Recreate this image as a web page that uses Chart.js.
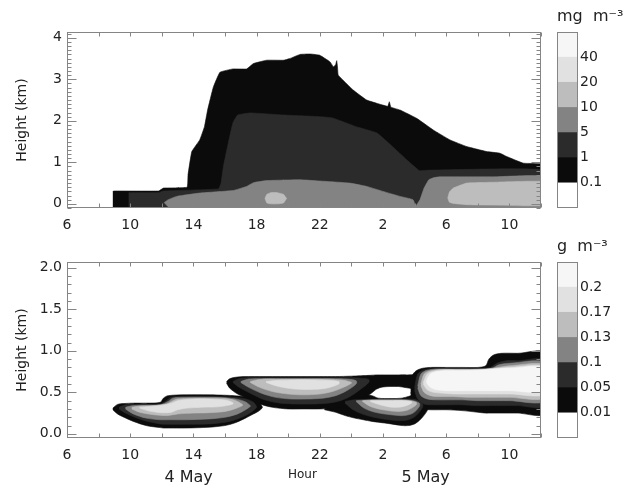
<!DOCTYPE html>
<html>
<head>
<meta charset="utf-8">
<script src="https://cdn.jsdelivr.net/npm/chart.js@4"></script>
<style>
  html, body { margin: 0; padding: 0; background: #fff; }
  #page { position: relative; width: 628px; height: 489px; overflow: hidden; }
  .box { position: absolute; }
</style>
</head>
<body>
<div id="page">
  <div class="box" style="left:0;top:0"><canvas id="iwc" width="550" height="240"></canvas></div>
  <div class="box" style="left:550px;top:0"><canvas id="iwcBar" width="78" height="240"></canvas></div>
  <div class="box" style="left:0;top:230px"><canvas id="lwc" width="550" height="259"></canvas></div>
  <div class="box" style="left:550px;top:230px"><canvas id="lwcBar" width="78" height="259"></canvas></div>
</div>
<script>
// x axis: hours since 0 h on 4 May (6 .. 36)
const hourTicks = [6, 10, 14, 18, 22, 26, 30, 34];
const hourLabels = ['6', '10', '14', '18', '22', '2', '6', '10'];
const noteTicks = [13.7, 20.9, 28.7];
const noteLabels = ['4 May', 'Hour', '5 May'];

const iwcTicks = [0, 1, 2, 3, 4];
const iwcTickLabels = ['0', '1', '2', '3', '4'];
const lwcTicks = [0, 0.5, 1, 1.5, 2];
const lwcTickLabels = ['0.0', '0.5', '1.0', '1.5', '2.0'];

// colour bar levels
const iwcLevels = ['0.1', '1', '5', '10', '20', '40'];
const lwcLevels = ['0.01', '0.05', '0.1', '0.13', '0.17', '0.2'];
const shades = ['#ffffff', '#0b0b0b', '#2b2b2b', '#838383', '#bdbdbd', '#e1e1e1', '#f6f6f6'];

// ---- top panel (mg m-3), contour regions: top / bottom height (km) per hour ----
const FLOOR = -0.2;
const iwc01 = {
  hours: [8.9, 9.0, 11.8, 12.1, 13.6, 13.66, 13.9, 14.4, 14.7, 14.9, 15.26, 15.68, 16.5, 17.37, 17.8, 18.64, 19.7, 20.1, 20.75, 21.4, 22.0, 22.65, 22.86, 23.0, 23.07, 23.12, 23.17, 24.12, 24.97, 26.3, 26.4, 26.5, 27.08, 28.13, 29.18, 30.24, 31.3, 32.56, 33.4, 33.83, 34.88, 36.3],
  top:   [0.30, 0.31, 0.31, 0.38, 0.40, 0.70, 1.26, 1.54, 1.86, 2.26, 2.81, 3.17, 3.25, 3.25, 3.38, 3.46, 3.46, 3.50, 3.60, 3.61, 3.58, 3.42, 3.30, 3.35, 3.45, 3.30, 3.10, 2.74, 2.50, 2.35, 2.46, 2.33, 2.26, 2.06, 1.78, 1.54, 1.38, 1.26, 1.22, 1.14, 0.98, 0.94]
};
const iwc1 = {
  hours: [9.9, 10.0, 11.8, 12.1, 15.6, 15.75, 15.9, 16.2, 16.5, 16.8, 17.6, 19.7, 22.0, 22.8, 24.3, 25.6, 26.6, 27.5, 28.3, 28.8, 36.3],
  top:   [0.27, 0.27, 0.27, 0.31, 0.36, 0.50, 0.90, 1.45, 1.95, 2.14, 2.19, 2.14, 2.10, 2.07, 1.86, 1.71, 1.38, 1.06, 0.80, 0.81, 0.81]
};
const iwc5a = {
  hours:  [12.15, 12.4, 12.94, 14.4, 16.5, 17.37, 17.8, 18.64, 20.75, 22.0, 23.9, 24.97, 26.0, 27.08, 27.9, 28.1],
  top:    [0.03, 0.10, 0.18, 0.26, 0.32, 0.42, 0.51, 0.56, 0.58, 0.55, 0.50, 0.42, 0.30, 0.18, 0.10, -0.1],
  bottom: [0.03, -0.07, -0.2, -0.2, -0.2, -0.2, -0.2, -0.2, -0.2, -0.2, -0.2, -0.2, -0.2, -0.2, -0.2, -0.2]
};
const iwc5b = {
  hours: [28.0, 28.34, 28.6, 28.9, 29.2, 29.6, 31.0, 33.0, 36.3],
  top:   [-0.1, 0.10, 0.38, 0.58, 0.63, 0.65, 0.65, 0.65, 0.66]
};
const iwc10a = {
  hours:  [18.53, 18.65, 18.9, 19.3, 19.7, 19.9],
  top:    [0.13, 0.23, 0.27, 0.27, 0.23, 0.13],
  bottom: [0.13, 0.02, 0.0, 0.0, 0.02, 0.13]
};
const iwc10b = {
  hours:  [30.1, 30.2, 30.45, 31.3, 33.0, 36.3],
  top:    [0.14, 0.28, 0.38, 0.50, 0.52, 0.53],
  bottom: [0.14, 0.04, 0.01, -0.02, -0.03, -0.03]
};

// ---- bottom panel (g m-3): four cloud layers A, B, C, D ----
const lwcA0 = { hours: [8.9, 9.2, 9.6, 10.2, 11.0, 11.9, 12.1, 12.4, 13.5, 15.0, 16.0, 16.6, 17.2, 17.7, 18.1, 18.35],
  top:    [0.31, 0.355, 0.365, 0.37, 0.37, 0.38, 0.43, 0.46, 0.47, 0.47, 0.465, 0.46, 0.45, 0.43, 0.39, 0.33],
  bottom: [0.29, 0.24, 0.20, 0.15, 0.10, 0.075, 0.07, 0.07, 0.07, 0.08, 0.10, 0.13, 0.18, 0.23, 0.27, 0.31] };
const lwcA1 = { hours: [9.3, 9.7, 10.3, 11.0, 11.9, 12.3, 12.6, 13.5, 15.0, 16.0, 16.8, 17.4, 17.8, 18.0],
  top:    [0.32, 0.35, 0.355, 0.355, 0.36, 0.40, 0.44, 0.45, 0.45, 0.445, 0.435, 0.415, 0.38, 0.33],
  bottom: [0.30, 0.25, 0.20, 0.155, 0.12, 0.115, 0.115, 0.115, 0.12, 0.14, 0.18, 0.23, 0.28, 0.32] };
const lwcA2 = { hours: [9.7, 10.2, 11.0, 11.9, 12.4, 12.7, 13.5, 15.0, 16.0, 16.8, 17.3, 17.6],
  top:    [0.32, 0.34, 0.345, 0.35, 0.39, 0.43, 0.44, 0.44, 0.435, 0.415, 0.385, 0.34],
  bottom: [0.30, 0.24, 0.19, 0.17, 0.17, 0.17, 0.17, 0.18, 0.20, 0.24, 0.29, 0.33] };
const lwcA3 = { hours: [10.1, 10.6, 11.5, 12.3, 12.7, 13.0, 14.0, 15.0, 16.0, 16.6, 17.1],
  top:    [0.32, 0.335, 0.34, 0.36, 0.40, 0.42, 0.43, 0.43, 0.425, 0.405, 0.355],
  bottom: [0.30, 0.26, 0.23, 0.22, 0.23, 0.24, 0.25, 0.255, 0.27, 0.30, 0.34] };
const lwcA4 = { hours: [10.6, 11.2, 12.0, 12.6, 13.0, 13.6, 14.5, 15.5, 16.1, 16.5],
  top:    [0.32, 0.33, 0.345, 0.37, 0.40, 0.415, 0.42, 0.415, 0.405, 0.375],
  bottom: [0.31, 0.275, 0.255, 0.26, 0.29, 0.31, 0.32, 0.325, 0.34, 0.36] };

const lwcB0 = { hours: [16.1, 16.3, 16.8, 17.5, 18.2, 19.0, 20.0, 21.0, 22.0, 23.0, 24.0, 24.6, 25.2, 25.6, 26.0, 27.0, 27.5, 28.1],
  top:    [0.63, 0.665, 0.685, 0.69, 0.69, 0.69, 0.69, 0.69, 0.69, 0.69, 0.695, 0.70, 0.705, 0.71, 0.71, 0.71, 0.71, 0.70],
  bottom: [0.61, 0.55, 0.48, 0.42, 0.36, 0.32, 0.30, 0.30, 0.30, 0.31, 0.36, 0.42, 0.48, 0.54, 0.565, 0.57, 0.555, 0.55] };
const lwcB1 = { hours: [16.5, 16.9, 17.6, 18.5, 19.5, 20.5, 21.5, 22.5, 23.3, 24.0, 24.6, 25.1],
  top:    [0.63, 0.665, 0.675, 0.675, 0.675, 0.675, 0.675, 0.675, 0.675, 0.675, 0.67, 0.655],
  bottom: [0.62, 0.56, 0.49, 0.41, 0.37, 0.36, 0.36, 0.37, 0.40, 0.46, 0.54, 0.62] };
const lwcB2 = { hours: [17.0, 17.5, 18.3, 19.2, 20.2, 21.2, 22.2, 23.0, 23.7, 24.3],
  top:    [0.63, 0.66, 0.665, 0.665, 0.665, 0.665, 0.665, 0.665, 0.66, 0.64],
  bottom: [0.62, 0.56, 0.49, 0.44, 0.42, 0.42, 0.43, 0.46, 0.52, 0.60] };
const lwcB3 = { hours: [17.6, 18.2, 19.0, 20.0, 21.0, 22.0, 22.8, 23.5, 24.0],
  top:    [0.63, 0.655, 0.66, 0.66, 0.66, 0.66, 0.655, 0.645, 0.62],
  bottom: [0.62, 0.56, 0.51, 0.48, 0.47, 0.48, 0.51, 0.56, 0.61] };
const lwcB4 = { hours: [18.6, 19.4, 20.4, 21.4, 22.4, 23.2],
  top:    [0.63, 0.645, 0.65, 0.65, 0.645, 0.63],
  bottom: [0.62, 0.57, 0.54, 0.535, 0.55, 0.60] };

const lwcD0 = { hours: [22.3, 23.0, 23.6, 24.2, 24.75, 25.3, 25.7, 26.5, 27.2, 27.6, 28.0, 28.4, 28.8],
  top:    [0.30, 0.36, 0.41, 0.45, 0.47, 0.46, 0.43, 0.425, 0.43, 0.45, 0.47, 0.42, 0.33],
  bottom: [0.29, 0.26, 0.22, 0.19, 0.17, 0.15, 0.14, 0.12, 0.10, 0.10, 0.12, 0.18, 0.28] };
const lwcD1 = { hours: [23.6, 24.2, 25.0, 26.0, 27.0, 27.6, 28.1, 28.5],
  top:    [0.39, 0.41, 0.415, 0.415, 0.415, 0.42, 0.41, 0.36],
  bottom: [0.37, 0.28, 0.22, 0.18, 0.16, 0.17, 0.22, 0.32] };
const lwcD2 = { hours: [24.3, 24.8, 25.5, 26.5, 27.3, 27.9, 28.3],
  top:    [0.40, 0.405, 0.41, 0.41, 0.41, 0.40, 0.37],
  bottom: [0.39, 0.31, 0.26, 0.23, 0.22, 0.25, 0.33] };
const lwcD3 = { hours: [24.7, 25.2, 26.0, 27.0, 27.6, 28.1],
  top:    [0.40, 0.405, 0.405, 0.405, 0.40, 0.38],
  bottom: [0.39, 0.33, 0.29, 0.27, 0.29, 0.35] };
const lwcD4 = { hours: [25.2, 25.8, 26.6, 27.3, 27.8],
  top:    [0.40, 0.40, 0.40, 0.40, 0.39],
  bottom: [0.39, 0.35, 0.32, 0.33, 0.37] };

const lwcC0 = { hours: [27.75, 27.85, 28.1, 28.5, 29.0, 30.0, 31.0, 32.0, 32.5, 32.7, 33.0, 33.5, 34.5, 36.3],
  top:    [0.55, 0.70, 0.76, 0.79, 0.80, 0.80, 0.80, 0.80, 0.82, 0.90, 0.95, 0.97, 0.97, 0.97],
  bottom: [0.50, 0.40, 0.33, 0.30, 0.29, 0.29, 0.28, 0.26, 0.25, 0.25, 0.25, 0.25, 0.25, 0.25] };
const lwcC1 = { hours: [28.0, 28.2, 28.6, 29.2, 30.0, 31.0, 32.0, 32.8, 33.2, 33.8, 34.5, 36.3],
  top:    [0.55, 0.72, 0.77, 0.785, 0.785, 0.785, 0.785, 0.80, 0.85, 0.88, 0.88, 0.88],
  bottom: [0.52, 0.42, 0.36, 0.35, 0.35, 0.35, 0.34, 0.34, 0.34, 0.34, 0.34, 0.34] };
const lwcC2 = { hours: [28.2, 28.4, 28.8, 29.4, 30.2, 31.0, 32.0, 32.9, 33.3, 34.0, 36.3],
  top:    [0.58, 0.72, 0.765, 0.78, 0.78, 0.78, 0.78, 0.79, 0.83, 0.85, 0.85],
  bottom: [0.55, 0.46, 0.42, 0.41, 0.41, 0.41, 0.40, 0.40, 0.40, 0.40, 0.40] };
const lwcC3 = { hours: [28.4, 28.6, 29.0, 29.6, 30.4, 31.5, 32.5, 33.3, 34.0, 36.3],
  top:    [0.60, 0.72, 0.76, 0.775, 0.775, 0.775, 0.78, 0.80, 0.82, 0.82],
  bottom: [0.58, 0.50, 0.46, 0.45, 0.45, 0.44, 0.44, 0.44, 0.44, 0.44] };
const lwcC4 = { hours: [28.55, 28.8, 29.2, 29.8, 30.6, 31.5, 32.5, 33.3, 34.0, 36.3],
  top:    [0.62, 0.72, 0.755, 0.77, 0.77, 0.77, 0.775, 0.79, 0.80, 0.80],
  bottom: [0.60, 0.53, 0.50, 0.49, 0.48, 0.48, 0.48, 0.48, 0.48, 0.48] };
const lwcC5 = { hours: [28.75, 29.0, 29.4, 30.0, 31.0, 32.0, 33.0, 34.0, 36.3],
  top:    [0.64, 0.72, 0.75, 0.76, 0.76, 0.765, 0.78, 0.79, 0.79],
  bottom: [0.62, 0.56, 0.53, 0.52, 0.52, 0.52, 0.52, 0.52, 0.52] };

const iwcRegions = [[iwc01], [iwc1], [iwc5a, iwc5b], [iwc10a, iwc10b]];
const lwcRegions = [
  [lwcA0, lwcB0, lwcD0, lwcC0],
  [lwcA1, lwcB1, lwcD1, lwcC1],
  [lwcA2, lwcB2, lwcD2, lwcC2],
  [lwcA3, lwcB3, lwcD3, lwcC3],
  [lwcA4, lwcB4, lwcD4, lwcC4],
  [lwcC5]
];

Chart.defaults.font.family = "'DejaVu Sans', sans-serif";
Chart.defaults.font.size = 14;
Chart.defaults.color = '#222';
Chart.defaults.animation = false;

// box round the plot with IDL style inward ticks
const frame = {
  id: 'frame',
  afterDraw(chart, args, o) {
    const {ctx, chartArea: a} = chart;
    const L = Math.round(a.left) + 0.5, R = Math.round(a.right) - 0.5;
    const T = Math.round(a.top) + 0.5, B = Math.round(a.bottom) - 0.5;
    ctx.save();
    ctx.strokeStyle = '#858585';
    ctx.lineWidth = 1;
    ctx.strokeRect(L, T, R - L, B - T);
    ctx.beginPath();
    if (o.xStep) {
      const s = chart.scales.x;
      for (let n = Math.ceil(s.min / o.xStep); n * o.xStep <= s.max + 1e-9; n++) {
        const p = Math.round(s.getPixelForValue(n * o.xStep)) + 0.5;
        ctx.moveTo(p, B); ctx.lineTo(p, B - 4);
        ctx.moveTo(p, T); ctx.lineTo(p, T + 4);
      }
    }
    if (o.yStep) {
      const s = chart.scales.y;
      for (let n = Math.ceil(s.min / o.yStep - 1e-9); n * o.yStep <= s.max + 1e-9; n++) {
        const v = n * o.yStep, r = v / o.yMajor;
        const len = Math.abs(r - Math.round(r)) < 1e-6 ? 9 : 4;
        const p = Math.round(s.getPixelForValue(v)) + 0.5;
        ctx.moveTo(L, p); ctx.lineTo(L + len, p);
        ctx.moveTo(R, p); ctx.lineTo(R - len, p);
      }
    }
    ctx.stroke();
    ctx.restore();
  }
};

function outline(r) {
  const bottom = r.bottom || r.hours.map(() => FLOOR);
  const pts = r.hours.map((h, i) => ({x: h, y: r.top[i]}));
  for (let i = r.hours.length - 1; i >= 0; i--) pts.push({x: r.hours[i], y: bottom[i]});
  return pts;
}

function layers(levels, tension) {
  const sets = [];
  levels.forEach((regions, k) => regions.forEach(r => sets.push({
    data: outline(r),
    showLine: true,
    fill: 'shape',
    backgroundColor: shades[k + 1],
    borderColor: shades[k + 1],
    borderWidth: 0.6,
    pointRadius: 0,
    tension: tension,
    order: levels.length - k
  })));
  return sets;
}

function plotChart(id, levels, tension, y, notes) {
  const scales = {
    x: {
      type: 'linear', min: 6, max: 36,
      grid: {display: false, drawTicks: false}, border: {display: false},
      afterBuildTicks: s => { s.ticks = hourTicks.map(v => ({value: v})); },
      ticks: {callback: (v, i) => hourLabels[i], padding: 9, maxRotation: 0, autoSkip: false},
      afterFit: s => { s.height = notes ? 30 : 32; }
    },
    y: {
      min: y.min, max: y.max,
      grid: {display: false, drawTicks: false}, border: {display: false},
      afterBuildTicks: s => { s.ticks = y.ticks.map(v => ({value: v})); },
      ticks: {callback: (v, i) => y.labels[i], padding: 5},
      title: {display: true, text: 'Height (km)', font: {size: 14}, padding: {top: 14, bottom: 0}},
      afterFit: s => { s.width = 67; }
    }
  };
  if (notes) {
    scales.x2 = {
      type: 'linear', position: 'bottom', min: 6, max: 36, weight: 1,
      grid: {display: false, drawTicks: false}, border: {display: false},
      afterBuildTicks: s => { s.ticks = noteTicks.map(v => ({value: v})); },
      ticks: {
        callback: (v, i) => noteLabels[i], padding: 0, maxRotation: 0, autoSkip: false,
        font: c => ({size: c.index === 1 ? 12 : 16})
      },
      afterFit: s => { s.height = 21; }
    };
  }
  return new Chart(document.getElementById(id), {
    type: 'scatter',
    data: {datasets: layers(levels, tension)},
    options: {
      responsive: false,
      events: [],
      layout: {padding: {top: 32, right: 9, left: 0, bottom: 0}},
      scales: scales,
      plugins: {
        legend: {display: false}, tooltip: {enabled: false},
        frame: {xStep: 2, yStep: 0.1, yMajor: y.major}
      }
    },
    plugins: [frame]
  });
}

function colourBar(id, unit, levels, bottomPad) {
  return new Chart(document.getElementById(id), {
    type: 'bar',
    data: {
      labels: [''],
      datasets: shades.map(c => ({data: [1], backgroundColor: c, borderWidth: 0,
        barPercentage: 1, categoryPercentage: 1}))
    },
    options: {
      responsive: false,
      events: [],
      layout: {padding: {left: 7, top: 0, right: 0, bottom: bottomPad}},
      scales: {
        x: {stacked: true, display: false},
        y: {
          stacked: true, position: 'right', min: 0, max: shades.length,
          grid: {display: false, drawTicks: false}, border: {display: false},
          afterBuildTicks: s => { s.ticks = levels.map((l, i) => ({value: i + 1})); },
          ticks: {callback: (v, i) => levels[i], padding: 2, autoSkip: false},
          afterFit: s => { s.width = 50; }
        }
      },
      plugins: {
        legend: {display: false}, tooltip: {enabled: false},
        title: {display: true, text: unit, align: 'start', color: '#222',
          font: {size: 16, weight: 'normal'}, padding: {top: 7, bottom: 5.8}},
        frame: {}
      }
    },
    plugins: [frame]
  });
}

plotChart('iwc', iwcRegions, 0.1, {min: -0.1, max: 4.14, ticks: iwcTicks, labels: iwcTickLabels, major: 1}, false);
colourBar('iwcBar', 'mg  m\u207B\u00B3', iwcLevels, 32);
plotChart('lwc', lwcRegions, 0.3, {min: -0.05, max: 2.07, ticks: lwcTicks, labels: lwcTickLabels, major: 0.5}, true);
colourBar('lwcBar', 'g  m\u207B\u00B3', lwcLevels, 51);
</script>
</body>
</html>
